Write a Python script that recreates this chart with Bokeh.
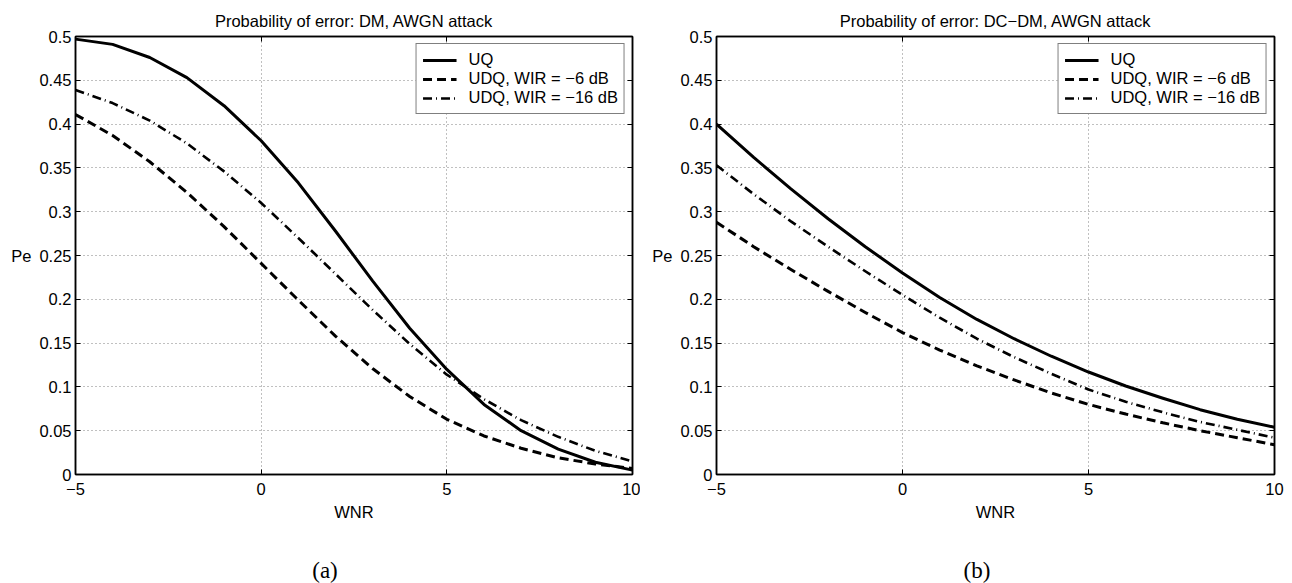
from bokeh.plotting import figure
from bokeh.models import (Range1d, FixedTicker, LinearAxis, Legend, LegendItem,
                          Div, CustomJSTickFormatter)
from bokeh.layouts import row, column
from bokeh.embed import file_html
from bokeh.resources import INLINE

# ---------------- data ----------------
wnr = [-5, -4, -3, -2, -1, 0, 1, 2, 3, 4, 5, 6, 7, 8, 9, 10]

# panel (a): DM, AWGN attack
a_uq    = [0.497, 0.491, 0.476, 0.453, 0.421, 0.381, 0.333, 0.278, 0.221, 0.167,
           0.120, 0.080, 0.050, 0.029, 0.014, 0.005]
a_udq6  = [0.411, 0.387, 0.357, 0.322, 0.283, 0.241, 0.199, 0.158, 0.121, 0.089,
           0.063, 0.044, 0.030, 0.019, 0.012, 0.007]
a_udq16 = [0.439, 0.424, 0.404, 0.378, 0.346, 0.310, 0.270, 0.229, 0.188, 0.149,
           0.114, 0.086, 0.062, 0.043, 0.027, 0.015]

# panel (b): DC-DM, AWGN attack
b_uq    = [0.400, 0.362, 0.326, 0.292, 0.260, 0.230, 0.202, 0.177, 0.155, 0.135,
           0.117, 0.101, 0.087, 0.074, 0.063, 0.054]
b_udq6  = [0.288, 0.260, 0.234, 0.209, 0.185, 0.162, 0.142, 0.124, 0.108, 0.093,
           0.080, 0.069, 0.059, 0.050, 0.042, 0.034]
b_udq16 = [0.353, 0.320, 0.289, 0.260, 0.232, 0.205, 0.179, 0.155, 0.134, 0.115,
           0.097, 0.083, 0.071, 0.060, 0.051, 0.042]

titles = ["Probability of error: DM, AWGN attack",
          "Probability of error: DC\u2212DM, AWGN attack"]
legend_labels = ["UQ", "UDQ, WIR = \u22126 dB", "UDQ, WIR = \u221216 dB"]
captions = ["(a)", "(b)"]
x_label = "WNR"
y_label = "Pe"

x_ticks = [-5, 0, 5, 10]
x_tick_labels = ["\u22125", "0", "5", "10"]
y_ticks = [0, 0.05, 0.1, 0.15, 0.2, 0.25, 0.3, 0.35, 0.4, 0.45, 0.5]
y_tick_labels = ["0", "0.05", "0.1", "0.15", "0.2", "0.25", "0.3", "0.35",
                 "0.4", "0.45", "0.5"]

# ---------------- styling ----------------
FONT = "Liberation Sans"
FS = "16.5px"

LOOKUP = ("let i = -1; for (let k = 0; k < tks.length; k++) {"
          " if (Math.abs(tks[k] - tick) < 1e-9) { i = k; } }"
          " return i >= 0 ? lbls[i] : '';")


def styled_axis(ax, ticks, labels, show_labels=True):
    ax.ticker = FixedTicker(ticks=ticks)
    if show_labels:
        ax.formatter = CustomJSTickFormatter(args=dict(tks=ticks, lbls=labels),
                                             code=LOOKUP)
    else:
        ax.formatter = CustomJSTickFormatter(code="return '';")
        ax.major_label_standoff = 0
    ax.major_tick_in = 5
    ax.major_tick_out = 0
    ax.minor_tick_line_color = None
    ax.major_tick_line_color = "black"
    ax.major_tick_line_width = 1
    ax.axis_line_color = "black"
    ax.axis_line_width = 1.5
    ax.major_label_text_font = FONT
    ax.major_label_text_font_size = FS
    ax.major_label_text_color = "black"
    ax.axis_label_text_font = FONT
    ax.axis_label_text_font_size = FS
    ax.axis_label_text_font_style = "normal"
    ax.axis_label_text_color = "black"


def make_panel(title, uq, udq6, udq16, border_left, border_right, frame_w):
    p = figure(frame_width=frame_w, frame_height=438,
               x_range=Range1d(-5, 10), y_range=Range1d(0, 0.5),
               output_backend="svg", toolbar_location=None,
               min_border_left=border_left, min_border_right=border_right,
               min_border_top=36, min_border_bottom=74,
               x_axis_label=x_label, y_axis_label=y_label, title=title)
    p.title.align = "center"
    p.title.text_font = FONT
    p.title.text_font_size = FS
    p.title.text_font_style = "normal"
    p.title.text_color = "black"
    p.title.standoff = 13

    p.outline_line_color = "black"
    p.outline_line_width = 1.5
    p.background_fill_color = "white"
    p.border_fill_color = "white"

    styled_axis(p.xaxis[0], x_ticks, x_tick_labels)
    styled_axis(p.yaxis[0], y_ticks, y_tick_labels)
    p.xaxis[0].major_label_standoff = 8
    p.xaxis[0].axis_label_standoff = 5
    p.yaxis[0].major_label_standoff = 4
    p.yaxis[0].axis_label_standoff = 5
    p.yaxis[0].axis_label_orientation = "horizontal"

    top = LinearAxis()
    styled_axis(top, x_ticks, x_tick_labels, show_labels=False)
    p.add_layout(top, "above")
    right = LinearAxis()
    styled_axis(right, y_ticks, y_tick_labels, show_labels=False)
    p.add_layout(right, "right")

    for g in (p.xgrid[0], p.ygrid[0]):
        g.grid_line_color = "#808080"
        g.grid_line_dash = "1 3"
        g.grid_line_width = 1
    p.xgrid[0].ticker = FixedTicker(ticks=x_ticks)
    p.ygrid[0].ticker = FixedTicker(ticks=y_ticks)

    r1 = p.line(wnr, uq, line_color="black", line_width=3, line_join="round")
    r2 = p.line(wnr, udq6, line_color="black", line_width=3, line_dash="9 5",
                line_join="round")
    r3 = p.line(wnr, udq16, line_color="black", line_width=2.6,
                line_dash="9 4 1 4", line_join="round")

    leg = Legend(items=[LegendItem(label=legend_labels[0], renderers=[r1]),
                        LegendItem(label=legend_labels[1], renderers=[r2]),
                        LegendItem(label=legend_labels[2], renderers=[r3])],
                 location="top_right")
    leg.label_text_font = FONT
    leg.label_text_font_size = FS
    leg.label_text_color = "black"
    leg.border_line_color = "black"
    leg.border_line_width = 1.5
    leg.background_fill_color = "white"
    leg.background_fill_alpha = 1
    leg.padding = 6
    leg.spacing = -1
    leg.margin = 7
    leg.glyph_width = 34
    leg.glyph_height = 16
    leg.label_height = 16
    leg.label_standoff = 12
    p.add_layout(leg)
    return p


pa = make_panel(titles[0], a_uq, a_udq6, a_udq16, 75, 8, 557)
pb = make_panel(titles[1], b_uq, b_udq6, b_udq16, 76, 10, 558)

cap_style = {"font-family": "Liberation Serif", "font-size": "23px",
             "text-align": "center", "line-height": "35px", "color": "black"}
da = Div(text=captions[0], width=640, height=35, styles=cap_style)
db = Div(text=captions[1], width=644, height=35, styles=cap_style)

layout = column(row(pa, pb), row(da, db))

open("out.html", "w").write(file_html(layout, INLINE))
